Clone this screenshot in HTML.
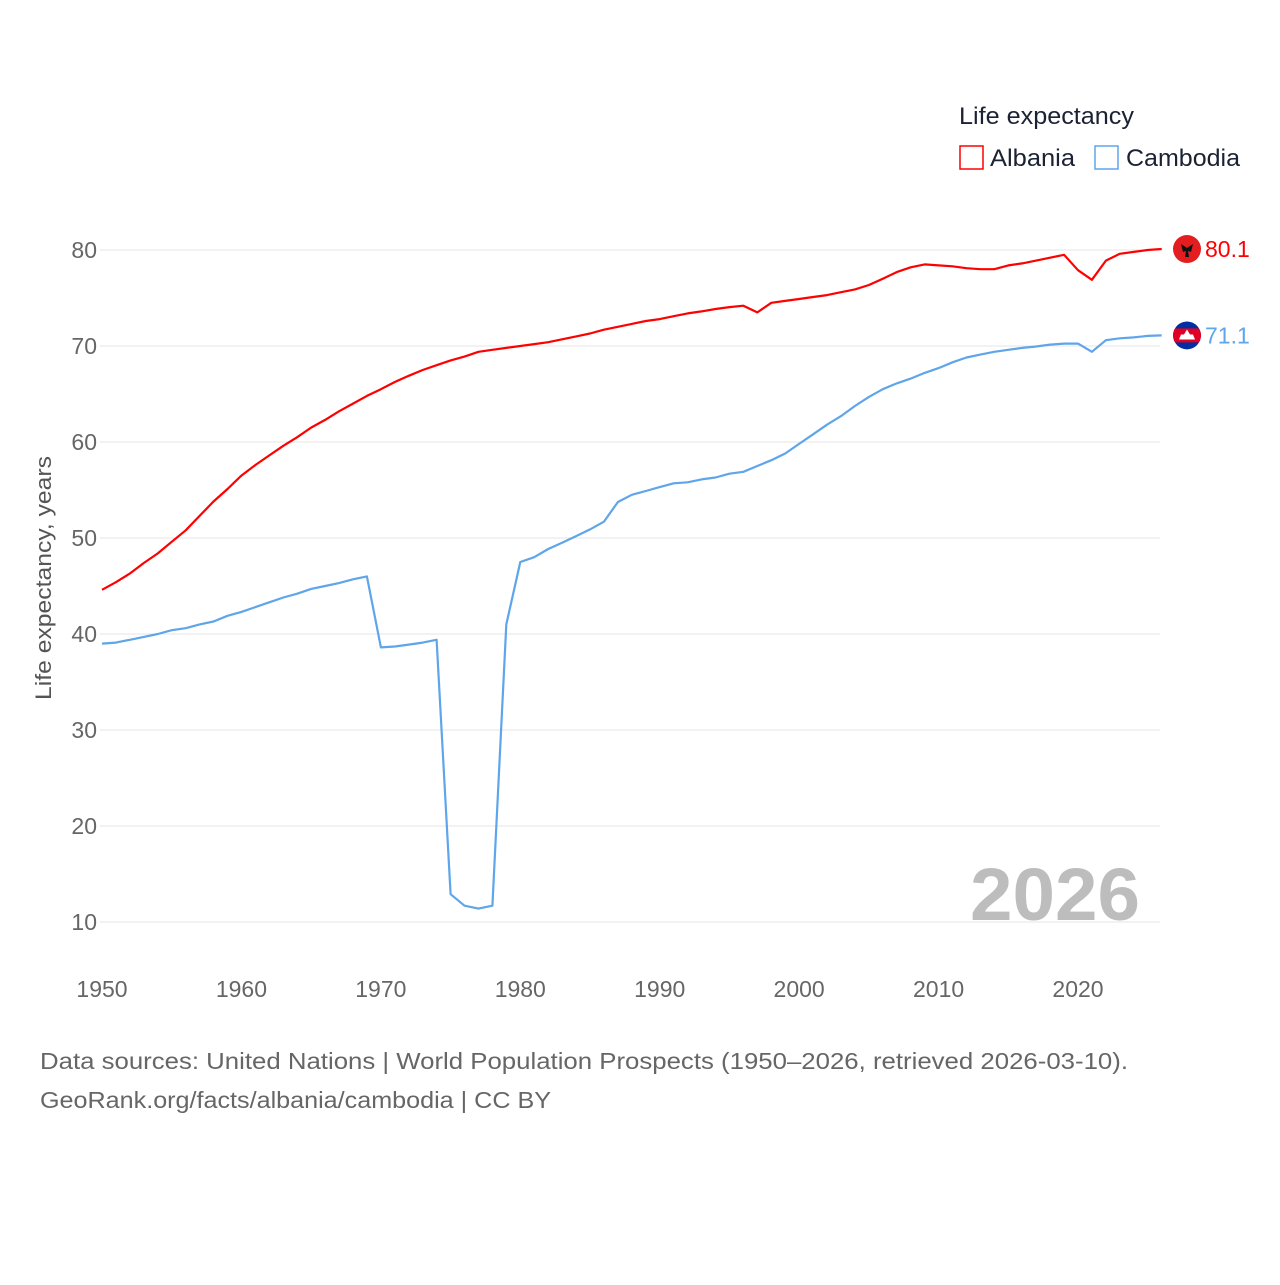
<!DOCTYPE html>
<html><head><meta charset="utf-8"><style>
body{margin:0;background:#fff;font-family:"Liberation Sans",sans-serif;}
svg text{font-family:"Liberation Sans",sans-serif;}
</style></head><body>
<svg id="chart" width="1280" height="1280" viewBox="0 0 1280 1280" xmlns="http://www.w3.org/2000/svg">
<defs><clipPath id="cclip"><circle cx="1187" cy="335" r="14"/></clipPath></defs>
<rect width="1280" height="1280" fill="#fff"/>
<g id="grid"></g>
<g id="yticks"></g>
<g id="xticks"></g>
<text transform="translate(51,578) rotate(-90)" text-anchor="middle" font-size="22" fill="#555" textLength="244" lengthAdjust="spacingAndGlyphs">Life expectancy, years</text>
<text x="970" y="920" font-size="74" font-weight="bold" fill="#bdbdbd" textLength="170" lengthAdjust="spacingAndGlyphs">2026</text>
<g id="series"></g>
<g>
<text x="959" y="124" font-size="24" fill="#1a2233" textLength="175" lengthAdjust="spacingAndGlyphs">Life expectancy</text>
<rect x="960" y="146" width="23" height="23" fill="none" stroke="#ff0000" stroke-width="1.5"/>
<text x="990" y="166" font-size="24" fill="#1a2233" textLength="85" lengthAdjust="spacingAndGlyphs">Albania</text>
<rect x="1095" y="146" width="23" height="23" fill="none" stroke="#5ea5ea" stroke-width="1.5"/>
<text x="1126" y="166" font-size="24" fill="#1a2233" textLength="114" lengthAdjust="spacingAndGlyphs">Cambodia</text>
</g>
<text x="40" y="1069" font-size="23" fill="#666" textLength="1088" lengthAdjust="spacingAndGlyphs">Data sources: United Nations | World Population Prospects (1950–2026, retrieved 2026-03-10).</text>
<text x="40" y="1108" font-size="23" fill="#666" textLength="511" lengthAdjust="spacingAndGlyphs">GeoRank.org/facts/albania/cambodia | CC BY</text>
</svg>
<script>
const years = [];
for (let y = 1950; y <= 2026; y++) years.push(y);
const albania = [44.6,45.4,46.3,47.4,48.4,49.6,50.8,52.3,53.8,55.1,56.5,57.6,58.6,59.6,60.5,61.5,62.3,63.2,64.0,64.8,65.5,66.25,66.9,67.5,68.0,68.5,68.9,69.4,69.6,69.8,70.0,70.2,70.4,70.7,71.0,71.3,71.7,72.0,72.3,72.6,72.8,73.1,73.4,73.6,73.85,74.05,74.2,73.5,74.5,74.7,74.9,75.1,75.3,75.6,75.9,76.35,77.0,77.7,78.2,78.5,78.4,78.3,78.1,78.0,78.0,78.4,78.6,78.9,79.2,79.5,77.9,76.9,78.9,79.6,79.8,80.0,80.1];
const cambodia = [39.0,39.1,39.4,39.7,40.0,40.4,40.6,41.0,41.3,41.9,42.3,42.8,43.3,43.8,44.2,44.7,45.0,45.3,45.7,46.0,38.6,38.7,38.9,39.1,39.4,12.9,11.7,11.4,11.7,41.0,47.5,48.0,48.85,49.5,50.2,50.9,51.7,53.75,54.5,54.9,55.3,55.7,55.8,56.1,56.3,56.7,56.9,57.5,58.1,58.8,59.8,60.8,61.8,62.7,63.75,64.7,65.5,66.1,66.6,67.2,67.7,68.3,68.8,69.1,69.4,69.6,69.8,69.95,70.15,70.25,70.25,69.4,70.6,70.8,70.9,71.05,71.1];
const yTicks = [10,20,30,40,50,60,70,80];
const xTicks = [1950,1960,1970,1980,1990,2000,2010,2020];
const finalLabels = ["80.1","71.1"];

const X = yr => 102 + (yr - 1950) * (976 / 70);
const Y = v => 250 + (80 - v) * 9.6;
const NS = "http://www.w3.org/2000/svg";
function mk(tag, attrs, parent){const e=document.createElementNS(NS,tag);for(const k in attrs)e.setAttribute(k,attrs[k]);parent.appendChild(e);return e;}
const grid=document.getElementById('grid'), yt=document.getElementById('yticks'), xt=document.getElementById('xticks'), ser=document.getElementById('series');
yTicks.forEach(v=>{
  const l=mk('line',{x1:100,x2:1160,y1:Y(v),y2:Y(v),stroke:'#e6e6e6','stroke-width':1},grid);
  
  
  const t=mk('text',{x:97,y:Y(v)+8,'text-anchor':'end','font-size':23,fill:'#666'},yt);
  t.textContent=v;
  
  
});
xTicks.forEach(v=>{
  const t=mk('text',{x:X(v),y:997,'text-anchor':'middle','font-size':23,fill:'#666'},xt);
  t.textContent=v;
  
  
});
function line(vals,color,name){
  const d=vals.map((v,i)=>(i?'L':'M')+X(years[i]).toFixed(1)+','+Y(v).toFixed(1)).join(' ');
  const p=mk('path',{d:d,fill:'none',stroke:color,'stroke-width':2.2,'stroke-linejoin':'round'},ser);
  
  
}
line(albania,'#ff0000','albania-line');
line(cambodia,'#5ea5ea','cambodia-line');
const ax=1187, ay=Y(albania[albania.length-1]);
const af=mk('g',{},ser);


mk('circle',{cx:ax,cy:ay,r:14,fill:'#e41e20'},af);
mk('path',{d:`M${ax-6},${ay-5} L${ax},${ay-1} L${ax+6},${ay-5} L${ax+4},${ay+3} L${ax+1},${ay+2} L${ax+2},${ay+8} L${ax-2},${ay+8} L${ax-1},${ay+2} L${ax-4},${ay+3} Z`,fill:'#111'},af);
const at=mk('text',{x:1205,y:ay+8,'font-size':23,fill:'#ff0000'},ser);
at.textContent=finalLabels[0];


const cx=1187, cy=Y(cambodia[cambodia.length-1]);
document.querySelector('#cclip circle').setAttribute('cy',cy);
const cf=mk('g',{'clip-path':'url(#cclip)'},ser);


mk('circle',{cx:cx,cy:cy,r:14,fill:'#032ea1'},cf);
mk('rect',{x:cx-14,y:cy-7,width:28,height:14,fill:'#e00025'},cf);
mk('path',{d:`M${cx-8},${cy+4} L${cx-6},${cy-1} L${cx-3},${cy-1} L${cx},${cy-6} L${cx+3},${cy-1} L${cx+6},${cy-1} L${cx+8},${cy+4} Z`,fill:'#fff'},cf);
const ct=mk('text',{x:1205,y:cy+8,'font-size':23,fill:'#5ea5ea'},ser);
ct.textContent=finalLabels[1];


</script>
</body></html>
